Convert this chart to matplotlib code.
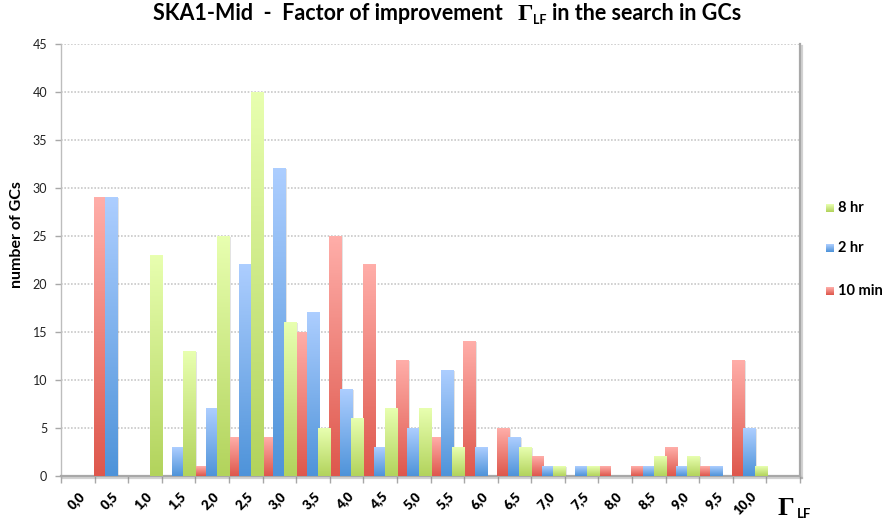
import numpy as np
import matplotlib
matplotlib.use("Agg")
import matplotlib.pyplot as plt
from matplotlib import patheffects as pe
from matplotlib.colors import to_rgb
from matplotlib.transforms import ScaledTranslation

# ---------------- data ----------------
categories = ["0,0", "0,5", "1,0", "1,5", "2,0", "2,5", "3,0", "3,5", "4,0", "4,5", "5,0",
              "5,5", "6,0", "6,5", "7,0", "7,5", "8,0", "8,5", "9,0", "9,5", "10,0", ""]
min10 = [0, 29, 0, 0, 1, 4, 4, 15, 25, 22, 12, 4, 14, 5, 2, 0, 1, 1, 3, 1, 12, 0]
hr2 = [0, 29, 0, 3, 7, 22, 32, 17, 9, 3, 5, 11, 3, 4, 1, 1, 0, 1, 1, 1, 5, 0]
hr8 = [0, 0, 23, 13, 25, 40, 16, 5, 6, 7, 7, 3, 0, 3, 1, 1, 0, 2, 2, 0, 1, 0]
series_names = ["10 min", "2 hr", "8 hr"]
yticks = [0, 5, 10, 15, 20, 25, 30, 35, 40, 45]

# gradient colours (top, bottom)
grads = {
    "10 min": ("#FFAEA9", "#DE574C"),
    "2 hr": ("#ADCEFF", "#4E93D9"),
    "8 hr": ("#E8FFB0", "#B2D35C"),
}

W, H = 886, 525
fig = plt.figure(figsize=(W / 100, H / 100), dpi=100)
ax = fig.add_axes([61 / W, (H - 476) / H, (800 - 61) / W, (476 - 44) / H])

FONT = "Lato"
x = np.arange(len(categories))
bw = 1 / 3
ext = 0.02  # small overlap to avoid hairline seams between adjacent bars
containers = []
for i, (name, vals) in enumerate(zip(series_names, [min10, hr2, hr8])):
    top, bot = grads[name]
    cont = ax.bar(x + (i - 1) * bw, vals, width=bw, color=bot, linewidth=0, zorder=3,
                  label=name,
                  path_effects=[pe.SimplePatchShadow(offset=(1.2, -0.5), shadow_rgbFace=(0.5, 0.5, 0.5), alpha=0.22),
                                pe.Normal()])
    containers.append(cont)
    g = np.linspace(0, 1, 256)[:, None, None]
    c_top = np.array(to_rgb(top))[None, None, :]
    c_bot = np.array(to_rgb(bot))[None, None, :]
    img = c_top * (1 - g) + c_bot * g
    for rect in cont.patches:
        h = rect.get_height()
        if h <= 0:
            continue
        x0 = rect.get_x()
        ax.imshow(img, extent=[x0 - ext, x0 + rect.get_width() + ext, 0, h], aspect="auto",
                  interpolation="nearest", zorder=3.5)

ax.set_xlim(-0.5, len(categories) - 0.5)
ax.set_ylim(0, 45)
ax.set_aspect("auto")

# grid
ax.set_yticks(yticks)
ax.yaxis.grid(True, color="#C8C8C8", linestyle=(0, (1, 1)), linewidth=1.2, zorder=0)
ax.set_axisbelow(True)

# spines
ax.spines["top"].set_visible(False)
ax.spines["left"].set_color("#BDBDBD")
ax.spines["left"].set_linewidth(1.0)
for s in ["bottom", "right"]:
    ax.spines[s].set_color("#A8A8A8")
    ax.spines[s].set_linewidth(1.6)
    ax.spines[s].set_path_effects([pe.SimpleLineShadow(offset=(1.5, -1.5), shadow_color="gray", alpha=0.35),
                                   pe.Normal()])

# y ticks
ax.tick_params(axis="y", length=4, color="#A8A8A8", width=1, pad=6, labelsize=9, labelcolor="#222222")
for lab in ax.get_yticklabels():
    lab.set_fontfamily(FONT)

# x ticks: marks at category boundaries, labels at centres
ax.set_xticks(np.arange(len(categories) + 1) - 0.5, minor=False)
ax.set_xticklabels([])
ax.tick_params(axis="x", which="major", length=5, color="#A8A8A8", width=1)
ax.set_xticks(x, minor=True)
ax.set_xticklabels(categories, minor=True)
ax.tick_params(axis="x", which="minor", length=0, pad=0)
for lab in ax.get_xticklabels(minor=True):
    lab.set_rotation(45)
    lab.set_ha("right")
    lab.set_va("top")
    lab.set_rotation_mode("anchor")
    lab.set_fontfamily(FONT)
    lab.set_fontweight("heavy")
    lab.set_fontsize(9.5)
    lab.set_transform(lab.get_transform() + ScaledTranslation(1 / 100, -14 / 100, fig.dpi_scale_trans))

# y label
fig.text(17 / W, 1 - 235 / H, "number of GCs", rotation=90, ha="center", va="center",
         fontsize=11.5, fontweight="bold", family=FONT)

# Gamma_LF axis label
fig.text(778 / W, 1 - 515 / H, "Γ", fontsize=19, fontweight="bold", family="Liberation Serif",
         ha="left", va="baseline")
fig.text(797 / W, 1 - 518 / H, "LF", fontsize=9.5, fontweight="bold", family=FONT,
         ha="left", va="baseline")

# legend (order 8 hr, 2 hr, 10 min)
handles = [containers[2], containers[1], containers[0]]
leg_y = [208, 248, 291]
for cont, name, yy in zip(handles, ["8 hr", "2 hr", "10 min"], leg_y):
    top, bot = grads[name]
    sq = fig.add_axes([826 / W, 1 - (yy + 4) / H, 8 / W, 8 / H])
    g = np.linspace(0, 1, 16)[:, None, None]
    img = np.array(to_rgb(top))[None, None, :] * (1 - g) + np.array(to_rgb(bot))[None, None, :] * g
    sq.imshow(img, aspect="auto", extent=[0, 1, 0, 1])
    sq.set_axis_off()
    fig.text(838 / W, 1 - yy / H, name, fontsize=10.5, fontweight="bold", family=FONT,
             ha="left", va="center")

# title built from pieces
fig.canvas.draw()
r = fig.canvas.get_renderer()
base_y = 1 - 20 / H
t1 = fig.text(0, base_y, "SKA1-Mid  -  Factor of improvement", fontsize=15.5, fontweight="bold",
              family=FONT, va="baseline", ha="left")
t2 = fig.text(0, base_y, "Γ", fontsize=17.5, fontweight="bold", family="Liberation Serif",
              va="baseline", ha="left")
t3 = fig.text(0, base_y - 4 / H, "LF", fontsize=9, fontweight="bold", family=FONT,
              va="baseline", ha="left")
t4 = fig.text(0, base_y, "in the search in GCs", fontsize=15.5, fontweight="bold",
              family=FONT, va="baseline", ha="left")
gaps = [0, 15, 0, 5]
widths = [t.get_window_extent(r).width for t in (t1, t2, t3, t4)]
total = sum(widths) + sum(gaps)
cur = 447 - total / 2
for t, wdt, gp in zip((t1, t2, t3, t4), widths, gaps):
    cur += gp
    t.set_x(cur / W)
    cur += wdt

fig.savefig("out.png", dpi=100)
